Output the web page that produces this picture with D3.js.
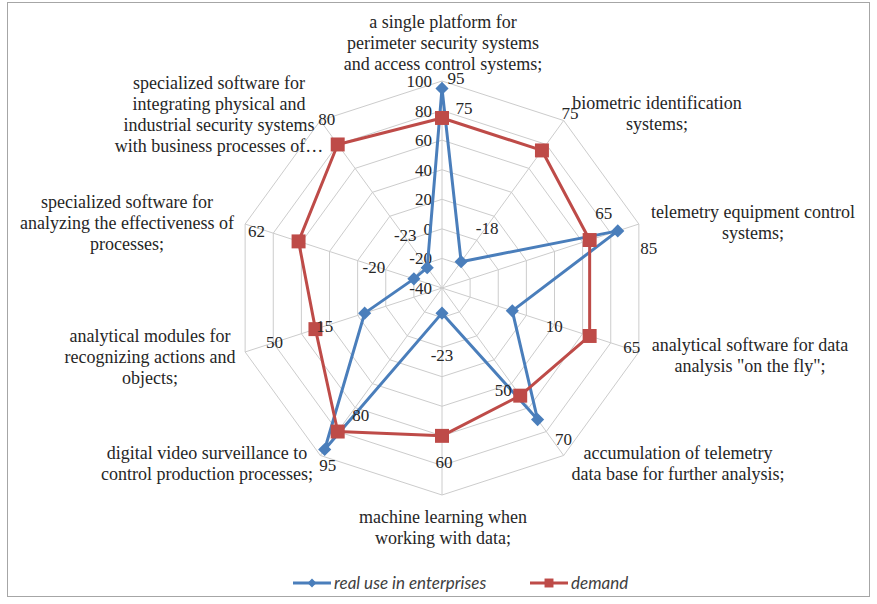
<!DOCTYPE html>
<html>
<head>
<meta charset="utf-8">
<script src="https://cdn.jsdelivr.net/npm/d3@7"></script>
<style>
  body { margin: 0; background: #fff; }
</style>
</head>
<body>
<div id="chart"></div>
<script>
// categories, clockwise from the top
const categories = [
  ["a single platform for", "perimeter security systems", "and access control systems;"],
  ["biometric identification", "systems;"],
  ["telemetry equipment control", "systems;"],
  ["analytical software for data", "analysis \"on the fly\";"],
  ["accumulation of telemetry", "data base for further analysis;"],
  ["machine learning when", "working with data;"],
  ["digital video surveillance to", "control production processes;"],
  ["analytical modules for", "recognizing actions and", "objects;"],
  ["specialized software for", "analyzing the effectiveness of", "processes;"],
  ["specialized software for", "integrating physical and", "industrial security systems", "with business processes of\u2026"]
];
const realUse = [95, -18, 85, 10, 70, -23, 95, 15, -20, -23];
const demand = [75, 75, 65, 65, 50, 60, 80, 50, 62, 80];
const ticks = [-40, -20, 0, 20, 40, 60, 80, 100];
const seriesNames = ["real use in enterprises", "demand"];

// where data labels sit relative to their point (px)
const realLabelOffset = [[14,-10],[26,-34],[31,17],[42,15],[26,19],[0,42],[3,16],[-40,13],[-40,-12],[-22,-33]];
const demandLabelOffset = [[22,-10],[28,-37],[14,-27],[42,11],[-17,-6],[2,26],[23,-16],[-41,13],[-42,-10],[-11,-25]];
// category label anchors: [x, y of first line]
const catPos = [[443,22],[657,103],[753,212],[750,345],[678,453],[443,517],[207,453],[150,336],[127,202],[219,83]];

const W = 877, H = 604;
const cx = 442, cy = 288, R = 207;
const blue = "#4a7ebb", red = "#be4b48";
const serif = "Liberation Serif";
const ink = "#262626";

const svg = d3.select("#chart").append("svg")
  .attr("width", W).attr("height", H);

svg.append("rect")
  .attr("x", 7.5).attr("y", 2.5)
  .attr("width", 862).attr("height", 594)
  .attr("fill", "#fff").attr("stroke", "#a6a6a6");

const r = d3.scaleLinear().domain([ticks[0], ticks[ticks.length - 1]]).range([0, R]);
const angle = d3.scaleLinear().domain([0, categories.length]).range([0, 2 * Math.PI]);

function pt(i, v) {
  const a = angle(i);
  return [cx + Math.sin(a) * r(v), cy - Math.cos(a) * r(v)];
}

const g = svg.append("g");

// rings
ticks.slice(1).forEach(t => {
  const ring = categories.map((c, i) => pt(i, t));
  g.append("path")
    .attr("d", d3.line()(ring) + "Z")
    .attr("fill", "none")
    .attr("stroke", "#cccccc")
    .attr("stroke-width", 1);
});
// spokes
categories.forEach((c, i) => {
  const p = pt(i, ticks[ticks.length - 1]);
  g.append("line")
    .attr("x1", cx).attr("y1", cy)
    .attr("x2", p[0]).attr("y2", p[1])
    .attr("stroke", "#cccccc");
});

// tick labels on the top axis
g.selectAll(".tick")
  .data(ticks)
  .enter()
  .append("text")
    .attr("x", cx - 10)
    .attr("y", d => cy - r(d))
    .attr("dy", "0.35em")
    .attr("text-anchor", "end")
    .style("font-family", serif)
    .style("fill", ink)
    .style("font-size", "17px")
    .text(d => d);

// series
function drawSeries(values, color, marker) {
  const pts = values.map((v, i) => pt(i, v));
  g.append("path")
    .attr("d", d3.line()(pts) + "Z")
    .attr("fill", "none")
    .attr("stroke", color)
    .attr("stroke-width", 3)
    .attr("stroke-linejoin", "round");
  g.append("g")
    .selectAll("path")
    .data(pts)
    .enter()
    .append("path")
      .attr("d", marker)
      .attr("transform", d => `translate(${d[0]},${d[1]})`)
      .attr("fill", color);
}
const diamond = d3.symbol().type(d3.symbolDiamond2).size(110)();
const square = d3.symbol().type(d3.symbolSquare).size(195)();
drawSeries(realUse, blue, diamond);
drawSeries(demand, red, square);

// data labels
function drawLabels(values, offsets) {
  g.append("g")
    .selectAll("text")
    .data(values)
    .enter()
    .append("text")
      .attr("x", (d, i) => pt(i, d)[0] + offsets[i][0])
      .attr("y", (d, i) => pt(i, d)[1] + offsets[i][1])
      .attr("dy", "0.35em")
      .attr("text-anchor", "middle")
      .style("font-family", serif)
      .style("fill", ink)
      .style("font-size", "17px")
      .text(d => d);
}
drawLabels(realUse, realLabelOffset);
drawLabels(demand, demandLabelOffset);

// category labels
categories.forEach((lines, i) => {
  const t = svg.append("text")
    .attr("text-anchor", "middle")
    .style("font-family", serif)
    .style("fill", ink)
    .style("font-size", "18px");
  lines.forEach((ln, k) => {
    t.append("tspan")
      .attr("x", catPos[i][0])
      .attr("y", catPos[i][1] + k * 20.8)
      .attr("dy", "0.35em")
      .text(ln);
  });
});

// legend
const legend = svg.append("g").attr("transform", "translate(0,583)");
const legendItems = [
  { name: seriesNames[0], color: blue, marker: d3.symbol().type(d3.symbolDiamond2).size(50)(), x: 293 },
  { name: seriesNames[1], color: red, marker: d3.symbol().type(d3.symbolSquare).size(80)(), x: 530 }
];
legendItems.forEach(d => {
  legend.append("line")
    .attr("x1", d.x).attr("x2", d.x + 38)
    .attr("stroke", d.color).attr("stroke-width", 3);
  legend.append("path")
    .attr("d", d.marker)
    .attr("transform", `translate(${d.x + 19},0)`)
    .attr("fill", d.color);
  legend.append("text")
    .attr("x", d.x + 41)
    .attr("dy", "0.35em")
    .style("font-family", "Lato")
    .style("fill", "#404040")
    .style("font-size", "17px")
    .style("font-style", "italic")
    .text(d.name);
});
</script>
</body>
</html>
